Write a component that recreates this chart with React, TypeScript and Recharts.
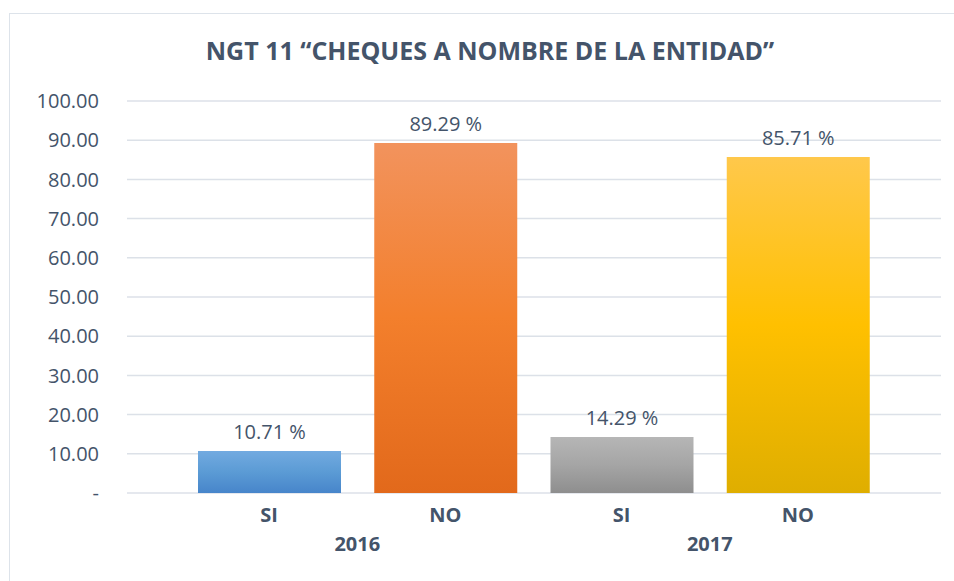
import { BarChart, Bar, XAxis, YAxis, CartesianGrid, Cell, LabelList } from 'recharts';

const answers = ['SI', 'NO', 'SI', 'NO'];
const years = ['2016', '', '2017', ''];
const percents = [10.71, 89.29, 14.29, 85.71];
const yTicks = [0, 10, 20, 30, 40, 50, 60, 70, 80, 90, 100];

const gradients = [
  { id: 'gBlue', stops: ['#72AAE0', '#5B9BD5', '#4785CA'] },
  { id: 'gOrange', stops: ['#F2935D', '#F37F2C', '#E2691B'] },
  { id: 'gGray', stops: ['#B6B6B6', '#A5A5A5', '#8E8E8E'] },
  { id: 'gGold', stops: ['#FFC84B', '#FFC000', '#DFAE00'] },
];

const TEXT = '#44546A';
const FONT = '"Open Sans", sans-serif';

const chartData = answers.map((a, i) => ({
  answer: a,
  year: years[i],
  value: percents[i],
}));

function CategoryTick(props: any) {
  const { x, y, payload, index } = props;
  const half = payload && payload.offset ? payload.offset : 88;
  const yr = years[index];
  return (
    <g>
      <text x={x} y={y + 21} textAnchor="middle" fill={TEXT} fontSize={20} fontWeight={700} fontFamily={FONT}>
        {payload.value}
      </text>
      {yr ? (
        <text x={x + half} y={y + 50} textAnchor="middle" fill={TEXT} fontSize={20} fontWeight={700} fontFamily={FONT}>
          {yr}
        </text>
      ) : null}
    </g>
  );
}

export default function App() {
  return (
    <div style={{ position: 'fixed', inset: 0, overflow: 'hidden', background: '#fff' }}>
      <div
        style={{
          position: 'absolute',
          left: 9,
          top: 13,
          width: 962,
          height: 600,
          border: '1.5px solid #DDE3EA',
          boxSizing: 'border-box',
        }}
      >
        <div
          style={{
            position: 'absolute',
            left: 0,
            top: 19,
            width: '100%',
            textAlign: 'center',
            fontFamily: FONT,
            fontWeight: 700,
            fontSize: 25,
            color: TEXT,
          }}
        >
          NGT 11 “CHEQUES A NOMBRE DE LA ENTIDAD”
        </div>
        <div style={{ position: 'absolute', left: 0, top: 0 }}>
          <BarChart
            width={945}
            height={568}
            data={chartData}
            margin={{ top: 87, right: 14, left: 0, bottom: 23 }}
            barSize={143}
          >
            <defs>
              {gradients.map((g) => (
                <linearGradient key={g.id} id={g.id} x1="0" y1="0" x2="0" y2="1">
                  <stop offset="0%" stopColor={g.stops[0]} />
                  <stop offset="50%" stopColor={g.stops[1]} />
                  <stop offset="100%" stopColor={g.stops[2]} />
                </linearGradient>
              ))}
            </defs>
            <CartesianGrid vertical={false} stroke="#DCE1E8" strokeWidth={1.5} />
            <XAxis
              dataKey="answer"
              axisLine={false}
              tickLine={false}
              interval={0}
              height={66}
              padding={{ left: 54, right: 55 }}
              tick={<CategoryTick />}
            />
            <YAxis
              domain={[0, 100]}
              ticks={yTicks}
              width={117}
              axisLine={false}
              tickLine={false}
              tickMargin={22}
              tickFormatter={(v: number) => (v === 0 ? '-' : v.toFixed(2))}
              tick={{ fill: TEXT, fontSize: 20, fontFamily: FONT }}
            />
            <Bar dataKey="value" isAnimationActive={false}>
              {chartData.map((d, i) => (
                <Cell key={i} fill={`url(#${gradients[i].id})`} />
              ))}
              <LabelList
                dataKey="value"
                position="top"
                offset={12}
                formatter={(v: any) => `${Number(v).toFixed(2)} %`}
                style={{ fill: TEXT, fontSize: 20, fontFamily: FONT }}
              />
            </Bar>
          </BarChart>
        </div>
      </div>
    </div>
  );
}
